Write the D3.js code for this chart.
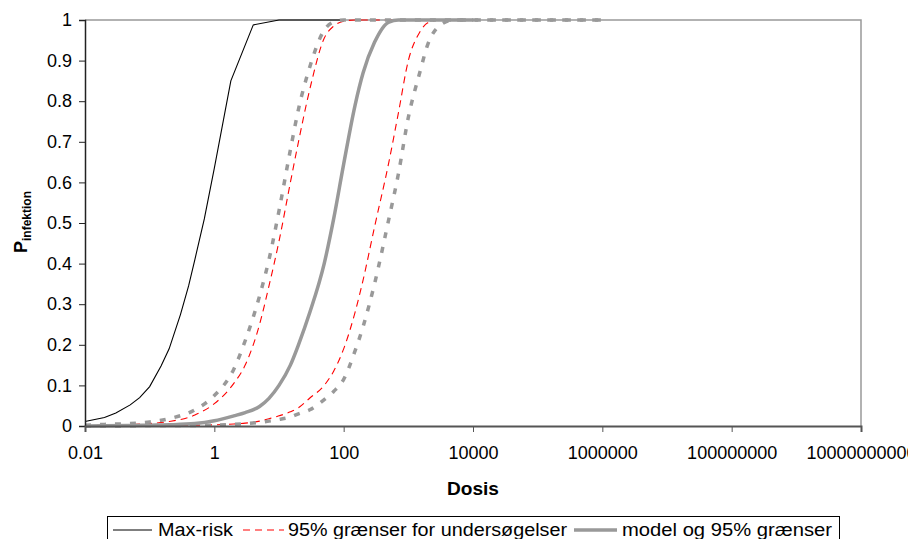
<!DOCTYPE html>
<html lang="da">
<head>
  <meta charset="UTF-8">
  <title>Dosis-respons</title>
  <script src="https://d3js.org/d3.v7.min.js"></script>
  <style>
    body { margin: 0; background: #fff; }
    svg text { font-family: "Liberation Sans", Arial, sans-serif; fill: #000; }
  </style>
</head>
<body>
  <div id="chart"></div>

  <script>
    // dosis-punkter for model- og undersøgelseskurverne
    const doses = [0.01, 0.02, 0.05, 0.1, 0.2, 0.5, 1, 2, 3, 5, 7, 10, 15, 20, 30, 50, 70,
      100, 150, 200, 300, 500, 700, 1000, 1500, 2000, 3000, 5000, 10000, 100000, 1000000];

    // Max-risk har sine egne punkter
    const maxRiskDoses = [0.01, 0.02, 0.03, 0.05, 0.07, 0.1, 0.15, 0.2, 0.3, 0.4, 0.5, 0.7, 1, 1.8, 4, 10, 100];
    const maxRisk = [0.011, 0.021, 0.032, 0.052, 0.07, 0.097, 0.148, 0.19, 0.275, 0.345, 0.41, 0.51,
      0.635, 0.85, 0.988, 1, 1];

    // 95% grænser for undersøgelser (rød, stiplet)
    const studyHigh = [0.001, 0.002, 0.004, 0.006, 0.011, 0.027, 0.055, 0.105, 0.15, 0.25, 0.345, 0.455,
      0.6, 0.7, 0.83, 0.955, 0.985, 0.997, 1, 1, 1, 1, 1, 1, null, null, null, null, null, null, null];
    const studyLow = [0, 0.0003, 0.0006, 0.001, 0.0015, 0.002, 0.003, 0.005, 0.007, 0.012, 0.018, 0.025,
      0.035, 0.045, 0.069, 0.1, 0.135, 0.19, 0.28, 0.36, 0.49, 0.65, 0.77, 0.9, 0.97, 0.993, 1, 1, 1, null, null];

    // model og 95% grænser (grå)
    const model = [0.0003, 0.0005, 0.001, 0.002, 0.003, 0.006, 0.013, 0.025, 0.033, 0.048, 0.068, 0.1,
      0.15, 0.2, 0.28, 0.4, 0.51, 0.645, 0.79, 0.87, 0.945, 0.995, 1, 1, 1, 1, 1, 1, 1, null, null];
    const modelHigh = [0.002, 0.004, 0.006, 0.01, 0.018, 0.04, 0.075, 0.14, 0.21, 0.32, 0.41, 0.53,
      0.68, 0.78, 0.885, 0.975, 0.995, 1, 1, 1, 1, 1, 1, 1, 1, 1, 1, 1, 1, 1, 1];
    const modelLow = [0, 0, 0.0005, 0.001, 0.001, 0.0015, 0.002, 0.004, 0.006, 0.009, 0.012, 0.016,
      0.022, 0.03, 0.04, 0.065, 0.085, 0.115, 0.185, 0.245, 0.35, 0.51, 0.62, 0.76, 0.87, 0.94, 0.985,
      1, 1, 1, 1];

    const xTicks = [0.01, 1, 100, 10000, 1000000, 100000000, 10000000000];
    const yTicks = [0, 0.1, 0.2, 0.3, 0.4, 0.5, 0.6, 0.7, 0.8, 0.9, 1];
    const legendLabels = ["Max-risk", "95% grænser for undersøgelser", "model og 95% grænser"];

    const width = 908, height = 539;
    const mLeft = 85, mRight = 861, mTop = 20, mBottom = 426;

    const svg = d3.select("#chart").append("svg")
      .attr("width", width)
      .attr("height", height);

    const x = d3.scaleLog().domain([0.01, 1e10]).range([mLeft, mRight]);
    const y = d3.scaleLinear().domain([0, 1]).range([mBottom, mTop]);

    // ramme: top og højre i grå
    svg.append("path")
      .attr("d", `M${mLeft},${mTop}H${mRight}V${mBottom}`)
      .attr("fill", "none")
      .attr("stroke", "#999")
      .attr("stroke-width", 1.5);

    // kurver
    const pts = (xs, ys) => xs.map((d, i) => [d, ys[i]]).filter(p => p[1] != null);
    const line = d3.line().x(p => x(p[0])).y(p => y(p[1]));
    const smooth = d3.line().x(p => x(p[0])).y(p => y(p[1])).curve(d3.curveMonotoneX);

    svg.append("path")
      .attr("d", line(pts(maxRiskDoses, maxRisk)))
      .attr("fill", "none").attr("stroke", "#000").attr("stroke-width", 1.1);

    [studyHigh, studyLow].forEach(s => {
      svg.append("path")
        .attr("d", smooth(pts(doses, s)))
        .attr("fill", "none").attr("stroke", "#ff0000").attr("stroke-width", 1.1)
        .attr("stroke-dasharray", "7,5");
    });

    svg.append("path")
      .attr("d", smooth(pts(doses, model)))
      .attr("fill", "none").attr("stroke", "#999").attr("stroke-width", 3.5);

    [modelHigh, modelLow].forEach(s => {
      svg.append("path")
        .attr("d", smooth(pts(doses, s)))
        .attr("fill", "none").attr("stroke", "#999").attr("stroke-width", 3.5)
        .attr("stroke-dasharray", "6,9");
    });

    // akser
    const yAxis = svg.append("g")
      .attr("transform", `translate(${mLeft},0)`)
      .call(d3.axisLeft(y).tickValues(yTicks).tickSize(6).tickPadding(7).tickFormat(d3.format("")));
    yAxis.select(".domain").attr("stroke", "#222").attr("stroke-width", 1.5);
    yAxis.selectAll(".tick line").attr("stroke", "#222");
    yAxis.selectAll("text").style("font-size", "18px");

    const xAxis = svg.append("g")
      .attr("transform", `translate(0,${mBottom})`)
      .call(d3.axisBottom(x).tickValues(xTicks).tickSize(6).tickPadding(14).tickFormat(d => String(d)));
    xAxis.select(".domain").attr("stroke", "#555").attr("stroke-width", 2);
    xAxis.selectAll(".tick line").attr("stroke", "#555");
    xAxis.selectAll("text").style("font-size", "18px");

    svg.append("text")
      .attr("x", 473).attr("y", 495)
      .attr("text-anchor", "middle")
      .attr("textLength", 52).attr("lengthAdjust", "spacingAndGlyphs")
      .style("font-size", "18px").style("font-weight", "bold")
      .text("Dosis");

    const yTitle = svg.append("text")
      .attr("transform", "translate(27,222) rotate(-90)")
      .attr("text-anchor", "middle")
      .style("font-weight", "bold");
    yTitle.append("tspan").style("font-size", "18px").text("P");
    yTitle.append("tspan").style("font-size", "12px").attr("dy", 4).text("infektion");

    // legende
    const lg = svg.append("g");
    lg.append("rect")
      .attr("x", 107.5).attr("y", 516.5).attr("width", 732).attr("height", 40)
      .attr("fill", "#fff").attr("stroke", "#000");

    const items = [
      { x0: 113, x1: 152, tx: 158, len: 75, stroke: "#000", w: 1.1, dash: null },
      { x0: 243, x1: 284, tx: 288, len: 279, stroke: "#ff0000", w: 1.1, dash: "7,5" },
      { x0: 574, x1: 617, tx: 622, len: 210, stroke: "#999", w: 3.5, dash: null }
    ];
    items.forEach((it, i) => {
      lg.append("line")
        .attr("x1", it.x0).attr("x2", it.x1).attr("y1", 530).attr("y2", 530)
        .attr("stroke", it.stroke).attr("stroke-width", it.w)
        .attr("stroke-dasharray", it.dash);
      lg.append("text")
        .attr("x", it.tx).attr("y", 536)
        .attr("textLength", it.len).attr("lengthAdjust", "spacingAndGlyphs")
        .style("font-size", "18px")
        .text(legendLabels[i]);
    });
  </script>
</body>
</html>
